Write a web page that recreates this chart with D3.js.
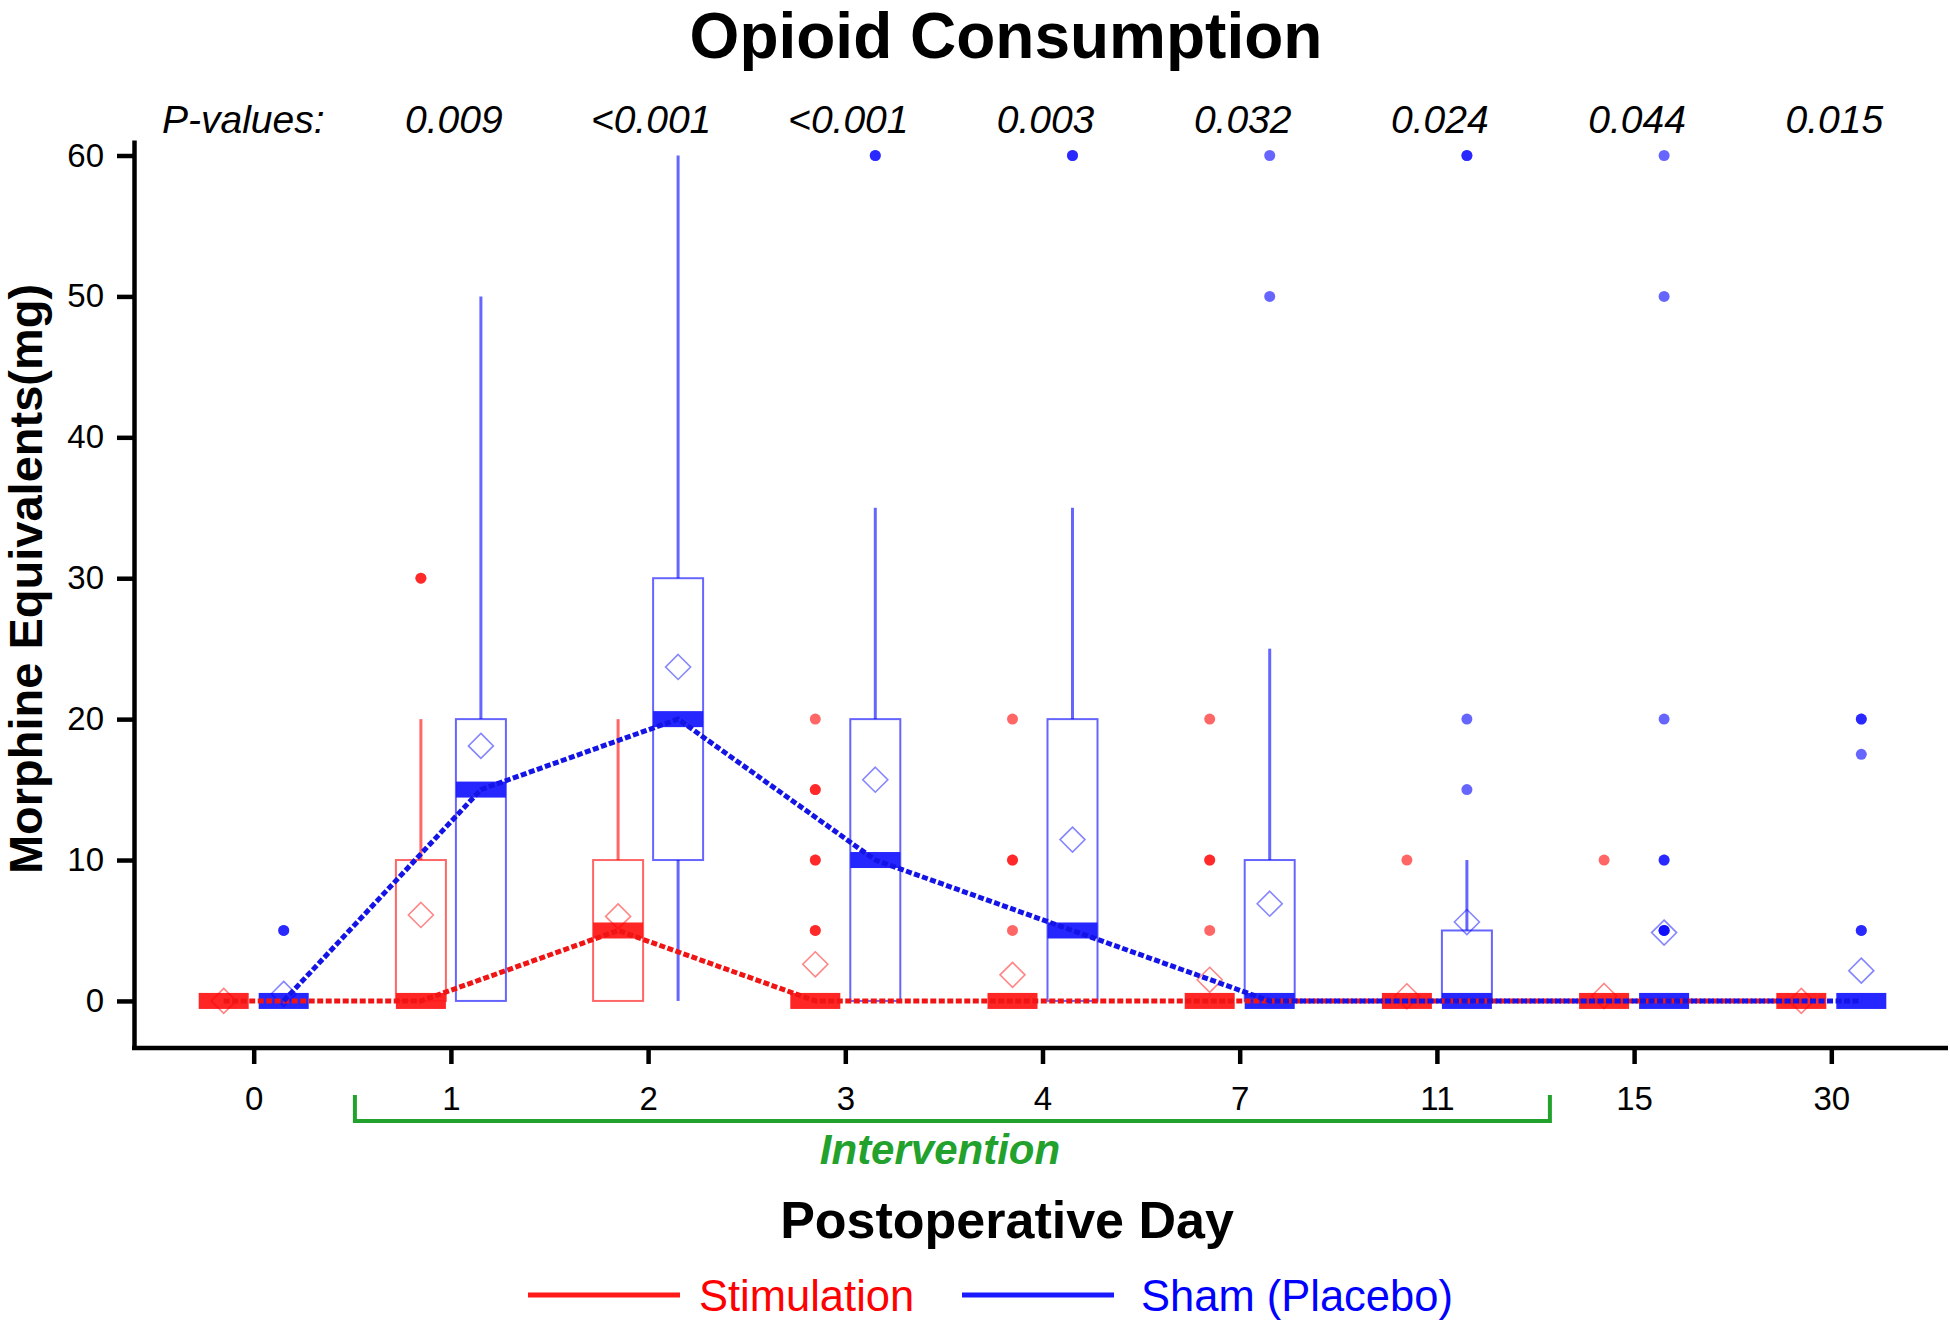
<!DOCTYPE html>
<html>
<head>
<meta charset="utf-8">
<script src="https://cdn.jsdelivr.net/npm/d3@7"></script>
<style>
  body { margin: 0; background: #fff; }
  svg { font-family: "Liberation Sans", Arial, sans-serif; }
</style>
</head>
<body>
<div id="container"></div>
<script>
/* DATA */
const days = ["0", "1", "2", "3", "4", "7", "11", "15", "30"];
const groups = ["Stimulation", "Sham (Placebo)"];
const pValues = ["0.009", "<0.001", "<0.001", "0.003", "0.032", "0.024", "0.044", "0.015"]; // days 1..30
const yTicks = [0, 10, 20, 30, 40, 50, 60];
const interventionDays = ["1", "11"];

// Stimulation
const stimLow    = [0, 0, 0, 0, 0, 0, 0, 0, 0];
const stimQ1     = [0, 0, 0, 0, 0, 0, 0, 0, 0];
const stimMedian = [0, 0, 5, 0, 0, 0, 0, 0, 0];
const stimQ3     = [0, 10, 10, 0, 0, 0, 0, 0, 0];
const stimHigh   = [0, 20, 20, 0, 0, 0, 0, 0, 0];
const stimMean   = [0, 6.1, 6.0, 2.6, 1.85, 1.5, 0.33, 0.35, 0];
const stimOutliers = [[], [30, 30], [], [20, 15, 15, 10, 10, 5, 5], [20, 10, 10, 5],
                      [20, 10, 10, 5], [10], [10], []];

// Sham (Placebo)
const shamLow    = [0, 0, 0, 0, 0, 0, 0, 0, 0];
const shamQ1     = [0, 0, 10, 0, 0, 0, 0, 0, 0];
const shamMedian = [0, 15, 20, 10, 5, 0, 0, 0, 0];
const shamQ3     = [0, 20, 30, 20, 20, 10, 5, 0, 0];
const shamHigh   = [0, 50, 60, 35, 35, 25, 10, 0, 0];
const shamMean   = [0.5, 18.1, 23.7, 15.7, 11.45, 6.9, 5.6, 4.85, 2.15];
const shamOutliers = [[5, 5], [], [], [60, 60], [60, 60], [60, 50], [60, 60, 20, 15],
                      [60, 50, 20, 10, 10, 5, 5, 5], [20, 20, 17.5, 5, 5]];

/* STYLE */
const colors = {
  "Stimulation":    {main: "#ff1a1a", line: "#f01414", light: "rgba(255,0,0,0.6)", dot: "#ff0000", text: "#ff0000"},
  "Sham (Placebo)": {main: "#1a1aff", line: "#1414e6", light: "rgba(0,0,255,0.6)", dot: "#0000ff", text: "#0000ff"}
};
const boxW = 50;

// build one table from the arrays
function makeRows(group, low, q1, med, q3, high, mean, outl) {
  return days.map((d, i) => ({
    day: d, group: group, low: low[i], q1: q1[i], median: med[i],
    q3: q3[i], high: high[i], mean: mean[i], outliers: outl[i]
  }));
}
const series = [
  makeRows("Stimulation", stimLow, stimQ1, stimMedian, stimQ3, stimHigh, stimMean, stimOutliers),
  makeRows("Sham (Placebo)", shamLow, shamQ1, shamMedian, shamQ3, shamHigh, shamMean, shamOutliers)
];
const rows = series.flat();

/* SVG */
const svg = d3.select("#container").append("svg")
  .attr("width", 1950)
  .attr("height", 1322);

/* SCALES */
const x = d3.scalePoint().domain(days).range([253.7, 1831.3]);
const off = d3.scalePoint().domain(groups).range([-30, 30]);
const y = d3.scaleLinear().domain([-3.34, 61.1]).range([1048, 140]);
const cx = d => x(d.day) + off(d.group);

/* AXES */
const yAxis = svg.append("g")
  .attr("transform", "translate(134,0)")
  .call(d3.axisLeft(y).tickValues(yTicks).tickSize(17).tickSizeOuter(0).tickPadding(13));
yAxis.select(".domain").attr("stroke", "#000").attr("stroke-width", 4.5);
yAxis.selectAll(".tick line").attr("stroke", "#000").attr("stroke-width", 4.5);
yAxis.selectAll(".tick text")
  .style("font-size", "33px")
  .style("fill", "#000");

const xAxis = svg.append("g")
  .attr("transform", "translate(0,1048)")
  .call(d3.axisBottom(x).tickSize(16).tickSizeOuter(0).tickPadding(23));
xAxis.select(".domain").remove();
xAxis.selectAll(".tick line").attr("stroke", "#000").attr("stroke-width", 4.5);
xAxis.selectAll(".tick text")
  .style("font-size", "33px")
  .style("fill", "#000");

svg.append("line")
  .attr("x1", 132).attr("x2", 1948)
  .attr("y1", 1048).attr("y2", 1048)
  .attr("stroke", "#000")
  .attr("stroke-width", 4.5);

/* BOXES */
const box = svg.append("g").selectAll("g.box")
  .data(rows)
  .join("g")
  .attr("class", "box");

// whiskers
box.append("line")
  .attr("x1", cx).attr("x2", cx)
  .attr("y1", d => y(d.q3)).attr("y2", d => y(d.high))
  .attr("stroke", d => colors[d.group].light)
  .attr("stroke-width", 3);
box.append("line")
  .attr("x1", cx).attr("x2", cx)
  .attr("y1", d => y(d.q1)).attr("y2", d => y(d.low))
  .attr("stroke", d => colors[d.group].light)
  .attr("stroke-width", 3);

// box outline
box.filter(d => d.q3 > d.q1).append("rect")
  .attr("x", d => cx(d) - boxW / 2)
  .attr("y", d => y(d.q3))
  .attr("width", boxW)
  .attr("height", d => y(d.q1) - y(d.q3))
  .attr("fill", "none")
  .attr("stroke", d => colors[d.group].light)
  .attr("stroke-width", 2);

// median bar
box.append("rect")
  .attr("x", d => cx(d) - boxW / 2)
  .attr("y", d => y(d.median) - 8)
  .attr("width", boxW)
  .attr("height", 16)
  .attr("fill", d => colors[d.group].main)
  .attr("fill-opacity", 0.95);

// mean diamond
box.append("path")
  .attr("d", "M0,-12.5L12.5,0L0,12.5L-12.5,0Z")
  .attr("transform", d => `translate(${cx(d)},${y(d.mean)})`)
  .attr("fill", "none")
  .attr("stroke", d => colors[d.group].light)
  .attr("stroke-opacity", 0.8)
  .attr("stroke-width", 1.6);

// outliers (repeated values overlap and look darker)
box.selectAll("circle")
  .data(d => d.outliers.map(v => ({value: v, day: d.day, group: d.group})))
  .join("circle")
  .attr("cx", cx)
  .attr("cy", d => y(d.value))
  .attr("r", 5.5)
  .attr("fill", d => colors[d.group].dot)
  .attr("fill-opacity", 0.6);

/* MEDIAN LINES */
const line = d3.line()
  .x(cx)
  .y(d => y(d.median));

svg.append("g").selectAll("path")
  .data(series)
  .join("path")
  .attr("d", line)
  .attr("fill", "none")
  .attr("stroke", d => colors[d[0].group].line)
  .attr("stroke-width", 5)
  .attr("stroke-dasharray", "6,2.5");

/* TEXT */
svg.append("text")
  .attr("x", 1006)
  .attr("y", 58)
  .attr("text-anchor", "middle")
  .style("font-size", "64px")
  .style("font-weight", "bold")
  .text("Opioid Consumption");

svg.append("text")
  .attr("x", 162)
  .attr("y", 133)
  .style("font-size", "39px")
  .style("font-style", "italic")
  .text("P-values:");

svg.append("g").selectAll("text")
  .data(pValues)
  .join("text")
  .attr("x", (d, i) => x(days[i + 1]) + 3)
  .attr("y", 133)
  .attr("text-anchor", "middle")
  .style("font-size", "39px")
  .style("font-style", "italic")
  .text(d => d);

svg.append("text")
  .attr("transform", "translate(42,579) rotate(-90)")
  .attr("text-anchor", "middle")
  .style("font-size", "47px")
  .style("font-weight", "bold")
  .text("Morphine Equivalents(mg)");

svg.append("text")
  .attr("x", 1007)
  .attr("y", 1238)
  .attr("text-anchor", "middle")
  .style("font-size", "52px")
  .style("font-weight", "bold")
  .text("Postoperative Day");

// intervention bracket
const green = "#22a12d";
const bx0 = x(interventionDays[0]) - 96;
const bx1 = x(interventionDays[1]) + 113;
svg.append("path")
  .attr("d", `M${bx0},1095V1121H${bx1}V1095`)
  .attr("fill", "none")
  .attr("stroke", green)
  .attr("stroke-width", 4);
svg.append("text")
  .attr("x", 940)
  .attr("y", 1164)
  .attr("text-anchor", "middle")
  .style("font-size", "42px")
  .style("font-weight", "bold")
  .style("font-style", "italic")
  .style("fill", green)
  .text("Intervention");

/* LEGEND */
const legendX = [528, 962];
const legendTextX = [171, 179];
const legend = svg.append("g").selectAll("g")
  .data(groups)
  .join("g")
  .attr("transform", (d, i) => `translate(${legendX[i]},1295)`);
legend.append("line")
  .attr("x1", 0).attr("x2", 152)
  .attr("stroke", d => colors[d].main)
  .attr("stroke-width", 5);
legend.append("text")
  .attr("x", (d, i) => legendTextX[i])
  .attr("y", 16)
  .style("font-size", "43.5px")
  .style("fill", d => colors[d].text)
  .text(d => d);
</script>
</body>
</html>
